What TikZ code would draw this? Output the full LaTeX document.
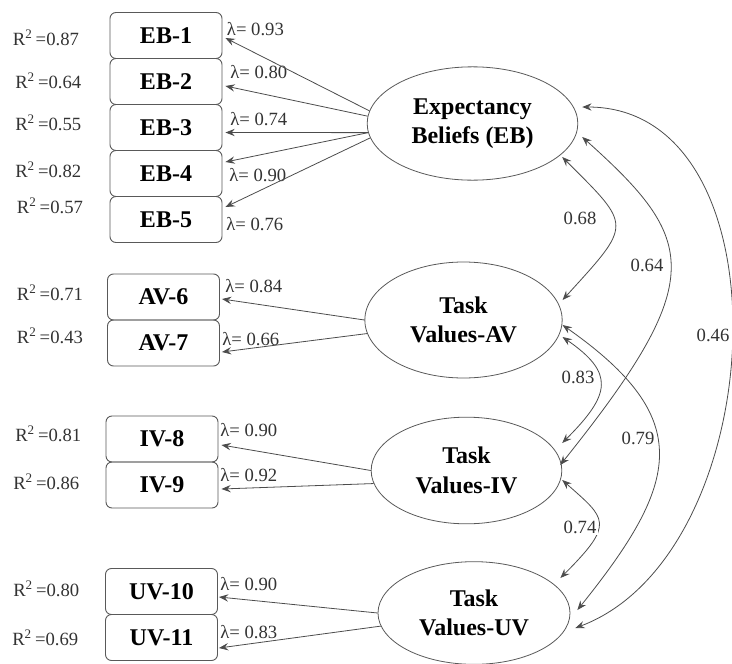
\documentclass[tikz,border=0pt]{standalone}
\usepackage{fontspec}
\setmainfont{Liberation Serif}
\usepackage{xcolor}
\usepackage{tikz}
\usetikzlibrary{shapes.geometric, arrows.meta}
\tikzstyle{item} = [rectangle, rounded corners=4.5pt, 
minimum width=84pt, 
minimum height=34.5pt,
text centered, 
draw=black!65, line width=0.7pt,
font=\bfseries\fontsize{18}{22}\selectfont]
\tikzstyle{latent} = [ellipse, 
text centered, align=center, 
draw=black!65, line width=0.6pt,
font=\bfseries\fontsize{18}{22}\selectfont]
\tikzstyle{rsq} = [anchor=base west, inner sep=0pt, 
text=black!80, font=\fontsize{14}{17}\selectfont]
\tikzstyle{loadlabel} = [anchor=base west, inner sep=0pt, 
text=black!80, font=\fontsize{14}{17}\selectfont]
\tikzstyle{corr} = [inner sep=1pt, fill=white, 
text=black!80, font=\fontsize{14}{17}\selectfont]
\tikzstyle{arrow} = [draw=black!70, line width=0.6pt, -{Stealth[length=7pt, width=5.5pt, inset=2.5pt]}]
\tikzstyle{covarrow} = [draw=black!70, line width=0.6pt, {Stealth[length=7pt, width=5.5pt, inset=2.5pt]}-{Stealth[length=7pt, width=5.5pt, inset=2.5pt]}]

\begin{document}
\begin{tikzpicture}[x=0.75pt, y=-0.75pt, node distance=34.5pt]
\useasboundingbox (0,0) rectangle (732,664);

% indicators
\node (eb1) [item] at (166,35.5) {EB-1};
\node (eb2) [item, below of=eb1] {EB-2};
\node (eb3) [item, below of=eb2] {EB-3};
\node (eb4) [item, below of=eb3] {EB-4};
\node (eb5) [item, below of=eb4] {EB-5};
\node (av6) [item] at (163.5,297) {AV-6};
\node (av7) [item, below of=av6] {AV-7};
\node (iv8) [item] at (162,439) {IV-8};
\node (iv9) [item, below of=iv8] {IV-9};
\node (uv10) [item] at (161.5,591.5) {UV-10};
\node (uv11) [item, below of=uv10] {UV-11};

% factors
\node (eb) [latent, minimum width=158pt, minimum height=85pt] at (472.5,123.5) {Expectancy\\Beliefs (EB)};
\node (av) [latent, minimum width=148pt, minimum height=87pt] at (463.5,320) {Task\\Values-AV};
\node (iv) [latent, minimum width=143pt, minimum height=80pt] at (466.5,470.5) {Task\\Values-IV};
\node (uv) [latent, minimum width=144pt, minimum height=77pt] at (474,613) {Task\\Values-UV};

% R^2 values
\node (r1) [rsq] at (12.7,45) {R\textsuperscript{2}\,=0.87};
\node (r2) [rsq] at (15,88) {R\textsuperscript{2}\,=0.64};
\node (r3) [rsq] at (15,130) {R\textsuperscript{2}\,=0.55};
\node (r4) [rsq] at (15,177) {R\textsuperscript{2}\,=0.82};
\node (r5) [rsq] at (16.7,213) {R\textsuperscript{2}\,=0.57};
\node (r6) [rsq] at (16.7,300.7) {R\textsuperscript{2}\,=0.71};
\node (r7) [rsq] at (16.7,343) {R\textsuperscript{2}\,=0.43};
\node (r8) [rsq] at (15,441.7) {R\textsuperscript{2}\,=0.81};
\node (r9) [rsq] at (13,489) {R\textsuperscript{2}\,=0.86};
\node (r10) [rsq] at (13,596.7) {R\textsuperscript{2}\,=0.80};
\node (r11) [rsq] at (12,645) {R\textsuperscript{2}\,=0.69};

% loadings
\node (l1) [loadlabel] at (226.7,35) {λ= 0.93};
\node (l2) [loadlabel] at (230,78.3) {λ= 0.80};
\node (l3) [loadlabel] at (230,125) {λ= 0.74};
\node (l4) [loadlabel] at (229,181.7) {λ= 0.90};
\node (l5) [loadlabel] at (226,230) {λ= 0.76};
\node (l6) [loadlabel] at (225,292.3) {λ= 0.84};
\node (l7) [loadlabel] at (222,345) {λ= 0.66};
\node (l8) [loadlabel] at (220,436.7) {λ= 0.90};
\node (l9) [loadlabel] at (220,481.7) {λ= 0.92};
\node (l10) [loadlabel] at (220,590) {λ= 0.90};
\node (l11) [loadlabel] at (220,638.3) {λ= 0.83};

\draw [arrow] (eb.173) -- ([shift={(3,2.5)}]eb1.east);
\draw [arrow] (eb.176) -- ([shift={(3,4.5)}]eb2.east);
\draw [arrow] (eb.185) -- ([shift={(3,5)}]eb3.east);
\draw [arrow] (eb.185) -- ([shift={(3,-11.5)}]eb4.east);
\draw [arrow] (eb.188) -- ([shift={(3,-12.5)}]eb5.east);
\draw [arrow] (av.west) -- ([shift={(2,2)}]av6.east);
\draw [arrow] (av.188) -- ([shift={(2,9)}]av7.east);
\draw [arrow] (iv.west) -- ([shift={(3,6)}]iv8.east);
\draw [arrow] (iv.188) -- ([shift={(3,4)}]iv9.east);
\draw [arrow] (uv.west) -- ([shift={(1,5.5)}]uv10.east);
\draw [arrow] (uv.188) -- ([shift={(1,10.5)}]uv11.east);

% correlations
\draw [covarrow] ([shift={(-16,33.5)}]eb.east) .. controls +(70,70) and +(70,-77) .. ([shift={(0,-20)}]av.east);
\draw [covarrow] ([shift={(4,13.5)}]eb.east) .. controls +(115,103) and +(149,-186) .. ([shift={(-2,-5.5)}]iv.east);
\draw [covarrow] ([shift={(4,-16.5)}]eb.east) .. controls +(210,0) and +(197,-74) .. ([shift={(5,15)}]uv.east);
\draw [covarrow] ([shift={(0,17)}]av.east) .. controls +(52,36) and +(49,-49) .. ([shift={(0,-27.5)}]iv.east);
\draw [covarrow] ([shift={(0,5)}]av.east) .. controls +(134,94) and +(102,-127) .. ([shift={(7,-3)}]uv.east);
\draw [covarrow] ([shift={(0,9.5)}]iv.east) .. controls +(44,39) and +(55,-55) .. ([shift={(-10,-35)}]uv.east);

\node (c1) [corr] at (580,218) {0.68};
\node (c2) [corr] at (647,265) {0.64};
\node (c3) [corr] at (713,335) {0.46};
\node (c4) [corr] at (578,377) {0.83};
\node (c5) [corr] at (638,438) {0.79};
\node (c6) [corr] at (580,527) {0.74};
\end{tikzpicture}
\end{document}
